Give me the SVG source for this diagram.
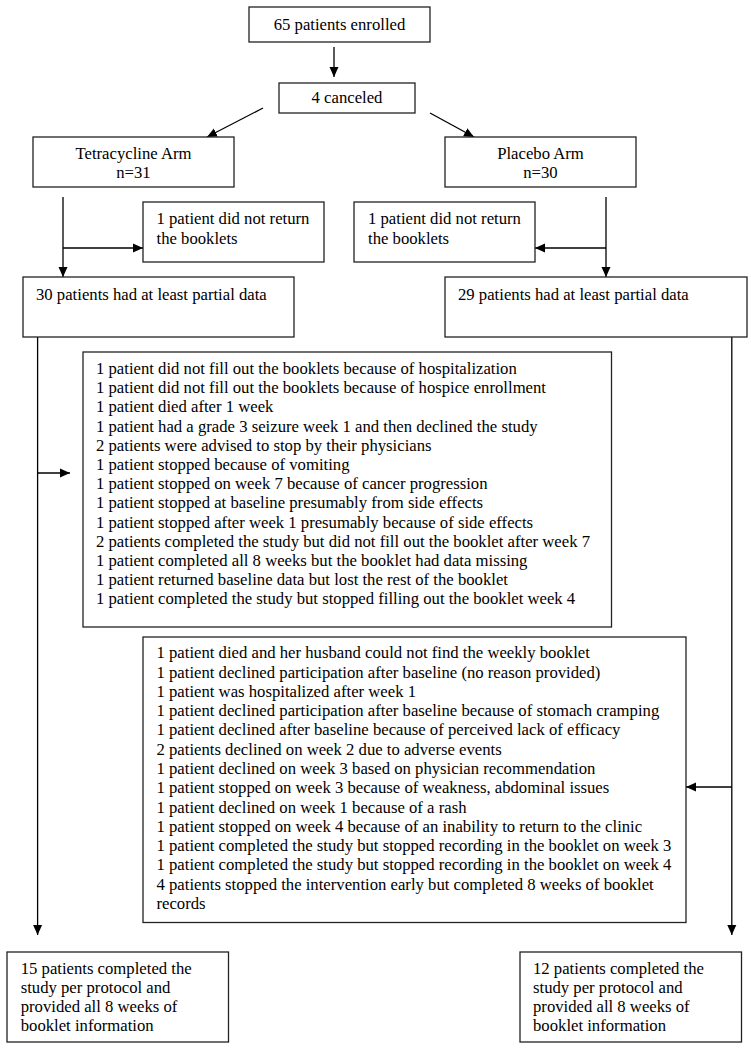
<svg xmlns="http://www.w3.org/2000/svg" width="751" height="1050" viewBox="0 0 751 1050">
<defs>
<marker id="ah" markerUnits="userSpaceOnUse" markerWidth="10" markerHeight="10" viewBox="0 0 10 10" refX="10" refY="5" orient="auto">
<path d="M0,0.5 L10,5 L0,9.5 Z" fill="#000"/>
</marker>
<style>
.b{fill:#fff;stroke:#222;stroke-width:1.3}
text{font-family:"Liberation Serif","Times New Roman",Tinos,serif;font-size:16.7px;fill:#000}
.c{text-anchor:middle}
.ln{stroke:#000;stroke-width:1.3;fill:none}
.a{marker-end:url(#ah)}
</style>
</defs>
<rect width="751" height="1050" fill="#fff"/>
<g id="connectors">
<line class="ln a" x1="334" y1="47" x2="334" y2="77"/>
<line class="ln a" x1="263" y1="108" x2="207" y2="137"/>
<line class="ln a" x1="430" y1="113" x2="474" y2="137"/>
<line class="ln a" x1="63" y1="197" x2="63" y2="277"/>
<line class="ln a" x1="63" y1="248" x2="143" y2="248"/>
<line class="ln a" x1="606" y1="197" x2="606" y2="277"/>
<line class="ln a" x1="606" y1="248" x2="535" y2="248"/>
<line class="ln a" x1="37.6" y1="337" x2="37.6" y2="935"/>
<line class="ln a" x1="37.6" y1="473" x2="70" y2="473"/>
<line class="ln a" x1="731.8" y1="337" x2="731.8" y2="935"/>
<line class="ln a" x1="731.8" y1="787" x2="686" y2="787"/>
</g>
<g id="n-enrolled"><rect class="b" x="249" y="7" width="181" height="35"/><text class="c" x="339.5" y="30">65 patients enrolled</text></g>
<g id="n-canceled"><rect class="b" x="279" y="83" width="136" height="30"/><text class="c" x="347" y="103">4 canceled</text></g>
<g id="n-tetra"><rect class="b" x="33" y="137" width="201" height="50"/><text class="c" x="133.5" y="159">Tetracycline Arm</text><text class="c" x="133.5" y="178">n=31</text></g>
<g id="n-placebo"><rect class="b" x="445" y="137" width="191" height="50"/><text class="c" x="540.5" y="159">Placebo Arm</text><text class="c" x="540.5" y="178">n=30</text></g>
<g id="n-noreturn-l"><rect class="b" x="143" y="202" width="181" height="60"/><text x="156.5" y="224">1 patient did not return</text><text x="156.5" y="244">the booklets</text></g>
<g id="n-noreturn-r"><rect class="b" x="354" y="202" width="181" height="60"/><text x="368" y="224">1 patient did not return</text><text x="368" y="244">the booklets</text></g>
<g id="n-partial-l"><rect class="b" x="23" y="277" width="271" height="60"/><text x="36" y="300">30 patients had at least partial data</text></g>
<g id="n-partial-r"><rect class="b" x="445" y="277" width="302" height="60"/><text x="458" y="300">29 patients had at least partial data</text></g>
<g id="n-reasons-l"><rect class="b" x="83" y="352" width="528.5" height="275"/>
<text x="96" y="374">1 patient did not fill out the booklets because of hospitalization</text>
<text x="96" y="393.2">1 patient did not fill out the booklets because of hospice enrollment</text>
<text x="96" y="412.4">1 patient died after 1 week</text>
<text x="96" y="431.6">1 patient had a grade 3 seizure week 1 and then declined the study</text>
<text x="96" y="450.8">2 patients were advised to stop by their physicians</text>
<text x="96" y="470">1 patient stopped because of vomiting</text>
<text x="96" y="489.2">1 patient stopped on week 7 because of cancer progression</text>
<text x="96" y="508.4">1 patient stopped at baseline presumably from side effects</text>
<text x="96" y="527.6">1 patient stopped after week 1 presumably because of side effects</text>
<text x="96" y="546.8">2 patients completed the study but did not fill out the booklet after week 7</text>
<text x="96" y="566">1 patient completed all 8 weeks but the booklet had data missing</text>
<text x="96" y="585.2">1 patient returned baseline data but lost the rest of the booklet</text>
<text x="96" y="604.4">1 patient completed the study but stopped filling out the booklet week 4</text>
</g>
<g id="n-reasons-r"><rect class="b" x="143" y="637" width="543" height="285.5"/>
<text x="156.5" y="658.3">1 patient died and her husband could not find the weekly booklet</text>
<text x="156.5" y="677.6">1 patient declined participation after baseline (no reason provided)</text>
<text x="156.5" y="696.9">1 patient was hospitalized after week 1</text>
<text x="156.5" y="716.1">1 patient declined participation after baseline because of stomach cramping</text>
<text x="156.5" y="735.4">1 patient declined after baseline because of perceived lack of efficacy</text>
<text x="156.5" y="754.7">2 patients declined on week 2 due to adverse events</text>
<text x="156.5" y="774">1 patient declined on week 3 based on physician recommendation</text>
<text x="156.5" y="793.3">1 patient stopped on week 3 because of weakness, abdominal issues</text>
<text x="156.5" y="812.5">1 patient declined on week 1 because of a rash</text>
<text x="156.5" y="831.8">1 patient stopped on week 4 because of an inability to return to the clinic</text>
<text x="156.5" y="851.1">1 patient completed the study but stopped recording in the booklet on week 3</text>
<text x="156.5" y="870.4">1 patient completed the study but stopped recording in the booklet on week 4</text>
<text x="156.5" y="889.7">4 patients stopped the intervention early but completed 8 weeks of booklet</text>
<text x="156.5" y="909">records</text>
</g>
<g id="n-complete-l"><rect class="b" x="7" y="952" width="221.5" height="90"/>
<text x="20.7" y="974">15 patients completed the</text>
<text x="20.7" y="993">study per protocol and</text>
<text x="20.7" y="1012">provided all 8 weeks of</text>
<text x="20.7" y="1031">booklet information</text>
</g>
<g id="n-complete-r"><rect class="b" x="520" y="952" width="221.5" height="90"/>
<text x="533" y="974">12 patients completed the</text>
<text x="533" y="993">study per protocol and</text>
<text x="533" y="1012">provided all 8 weeks of</text>
<text x="533" y="1031">booklet information</text>
</g>
</svg>
